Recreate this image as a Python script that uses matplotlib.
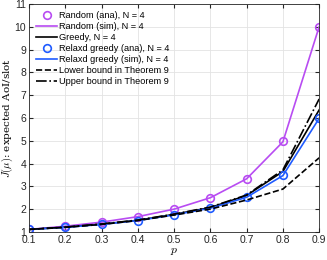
import numpy as np
import matplotlib.pyplot as plt

plt.rcParams['font.family'] = ['Liberation Sans', 'DejaVu Sans']
plt.rcParams['mathtext.fontset'] = 'cm'

p = [0.1, 0.2, 0.3, 0.4, 0.5, 0.6, 0.7, 0.8, 0.9]
random_ana = [1.11, 1.25, 1.43, 1.67, 2.0, 2.5, 3.33, 5.0, 10.0]
random_sim = [1.11, 1.25, 1.43, 1.67, 2.0, 2.5, 3.33, 4.95, 10.0]
greedy = [1.11, 1.21, 1.34, 1.51, 1.77, 2.07, 2.6, 3.65, 6.35]
relax_ana = [1.11, 1.2, 1.33, 1.5, 1.75, 2.05, 2.53, 3.48, 6.0]
relax_sim = [1.11, 1.2, 1.33, 1.5, 1.75, 2.04, 2.52, 3.47, 5.98]
lower = [1.11, 1.2, 1.33, 1.5, 1.74, 2.0, 2.4, 2.88, 4.25]
upper = [1.11, 1.21, 1.35, 1.52, 1.78, 2.09, 2.62, 3.72, 6.83]

purple = '#B84CF2'
blue = '#1F5BFF'

fig = plt.figure(figsize=(3.27, 2.60), dpi=100)
ax = fig.add_axes([0.089, 0.108, 0.887, 0.877])

ax.plot(p, random_ana, 'o', color=purple, mfc='none', ms=5.5, mew=1.2, label='Random (ana), N = 4')
ax.plot(p, random_sim, '-', color=purple, lw=1.2, label='Random (sim), N = 4')
ax.plot(p, greedy, '-', color='black', lw=1.2, label='Greedy, N = 4')
ax.plot(p, relax_ana, 'o', color=blue, mfc='none', ms=5.5, mew=1.2, label='Relaxd greedy (ana), N = 4')
ax.plot(p, relax_sim, '-', color=blue, lw=1.2, label='Relaxd greedy (sim), N = 4')
ax.plot(p, lower, '--', color='black', lw=1.2, label='Lower bound in Theorem 9')
ax.plot(p, upper, '-.', color='black', lw=1.2, label='Upper bound in Theorem 9')

ax.set_xlim(0.1, 0.9)
ax.set_ylim(1, 11)
ax.set_xticks(p)
ax.set_yticks(range(1, 12))
ax.grid(True, color='#e3e3e3', lw=0.6)
ax.tick_params(direction='in', labelsize=7.5, length=3, pad=2, top=True, right=True, colors='#262626')
for s in ax.spines.values():
    s.set_color('#262626')
    s.set_linewidth(0.6)
ax.set_xlabel('$p$', fontsize=8.5, labelpad=0)
ax.set_ylabel('$J(\\mu)$: expected AoI/slot', fontsize=7.5, family='DejaVu Serif')
ax.yaxis.set_label_coords(-0.05, 0.5)

ax.legend(loc='upper left', frameon=False, fontsize=6.6, handlelength=2.3,
          handletextpad=0.25, labelspacing=0.22, borderaxespad=0.35)

fig.savefig('out.png', dpi=100)
